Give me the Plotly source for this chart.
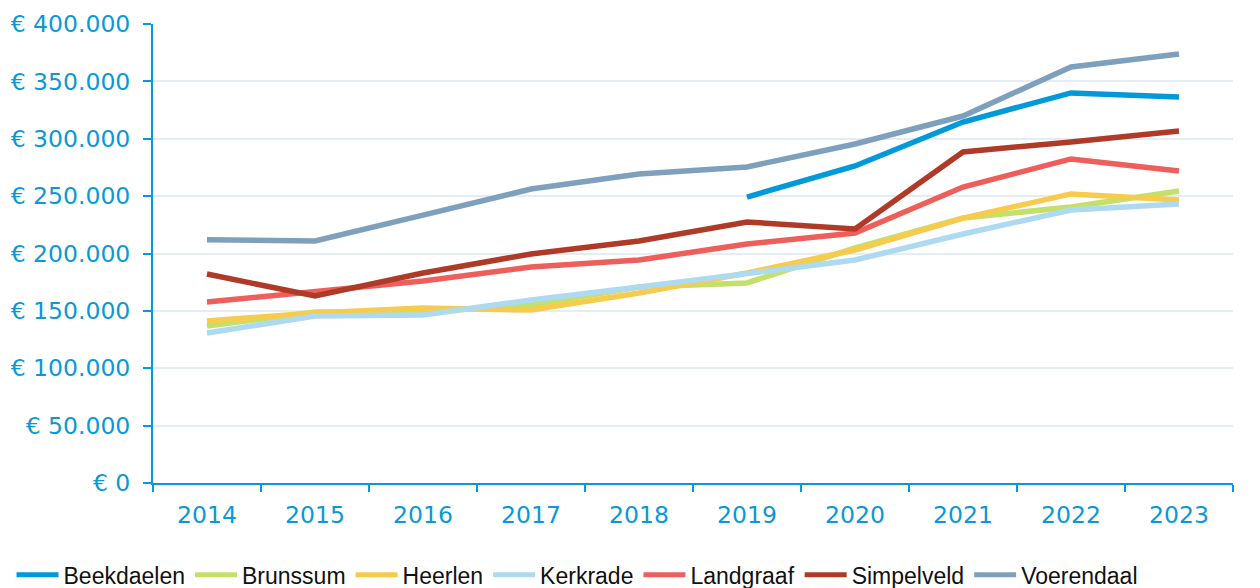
import plotly.graph_objects as go

years = ["2014", "2015", "2016", "2017", "2018", "2019", "2020", "2021", "2022", "2023"]

beekdaelen = [None, None, None, None, None, 249200, 276300, 314600, 339900, 336400]
brunssum = [136800, 149000, 149000, 155100, 170800, 174300, 204800, 230900, 240500, 254500]
heerlen = [141200, 148100, 152500, 150700, 165600, 183000, 203000, 230900, 251900, 246600]
kerkrade = [130700, 145500, 146400, 159500, 170800, 183000, 194300, 217000, 237900, 243100]
landgraaf = [157700, 167300, 176000, 188200, 194300, 208300, 217900, 257900, 282400, 271900]
simpelveld = [182100, 163000, 183000, 199600, 210900, 227500, 221400, 288500, 297200, 306800]
voerendaal = [212000, 211000, 233500, 256200, 269300, 275400, 295400, 319800, 362500, 373900]

series_names = ["Beekdaelen", "Brunssum", "Heerlen", "Kerkrade", "Landgraaf", "Simpelveld", "Voerendaal"]
series_values = [beekdaelen, brunssum, heerlen, kerkrade, landgraaf, simpelveld, voerendaal]
colors = ["#009ADA", "#C3E06A", "#F7CB4D", "#ADDAF0", "#EE5F5B", "#B03A28", "#7FA0BC"]

y_ticks = [0, 50000, 100000, 150000, 200000, 250000, 300000, 350000, 400000]
y_labels = ["€ 0", "€ 50.000", "€ 100.000", "€ 150.000", "€ 200.000", "€ 250.000", "€ 300.000", "€ 350.000", "€ 400.000"]

axis_color = "#0A98D8"

fig = go.Figure()
for name, vals, col in zip(series_names, series_values, colors):
    fig.add_trace(go.Scatter(
        x=years, y=vals, name=name, mode="lines",
        line=dict(color=col, width=5.5),
        connectgaps=False,
    ))

fig.update_layout(
    width=1260, height=588,
    margin=dict(l=153, r=27, t=24, b=105, autoexpand=False),
    paper_bgcolor="white", plot_bgcolor="white",
    showlegend=True,
    legend=dict(
        orientation="h",
        x=-0.131, xanchor="left", y=-0.2, yanchor="middle",
        font=dict(family="Liberation Sans, Arial, sans-serif", size=23, color="#111111"),
        itemwidth=42, tracegroupgap=0, itemsizing="constant",
        bgcolor="rgba(0,0,0,0)",
    ),
    font=dict(family="DejaVu Sans, sans-serif"),
)

fig.update_xaxes(
    type="category", range=[-0.5, 9.5],
    showline=True, linecolor=axis_color, linewidth=2,
    ticks="outside", tickson="boundaries", ticklen=7, tickwidth=2, tickcolor=axis_color,
    tickfont=dict(family="DejaVu Sans, sans-serif", size=23.5, color=axis_color),
    showgrid=False, zeroline=False, automargin=False,
    ticklabelstandoff=10,
)

fig.update_yaxes(
    range=[0, 400000],
    tickvals=y_ticks, ticktext=y_labels,
    showline=True, linecolor=axis_color, linewidth=2,
    ticks="outside", ticklen=8, tickwidth=2, tickcolor=axis_color,
    tickfont=dict(family="DejaVu Sans, sans-serif", size=23.5, color=axis_color),
    showgrid=True, gridcolor="#E4ECF6", gridwidth=2,
    zeroline=False, automargin=False,
    ticklabelstandoff=8,
)

fig.write_html(
    "out.html",
    config={"displayModeBar": False},
    post_script="document.body.style.margin='0';document.body.style.padding='0';",
)
